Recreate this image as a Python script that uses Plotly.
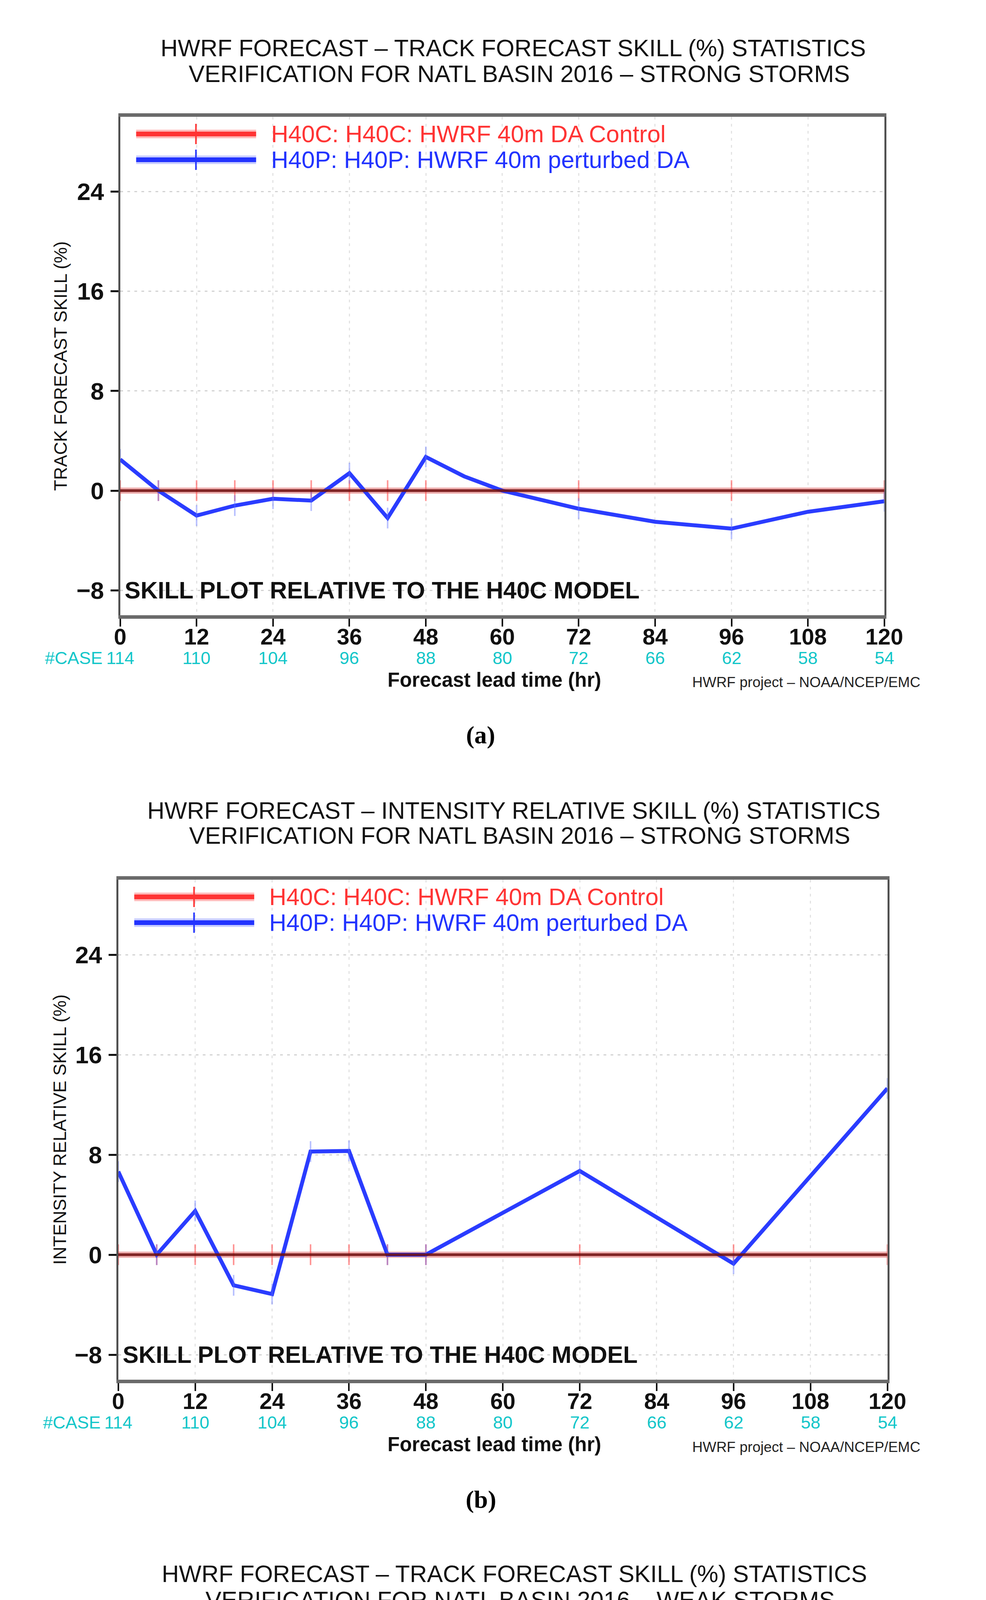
import plotly.graph_objects as go

W, H = 2524, 5892

# ---------------- data ----------------
lead_ticks = [0, 12, 24, 36, 48, 60, 72, 84, 96, 108, 120]
marked_hours = [0, 6, 12, 18, 24, 30, 36, 42, 48, 72, 96, 120]
h40c_skill = [0, 0, 0, 0, 0, 0, 0, 0, 0, 0, 0, 0]

# (a) track skill, strong storms
hours_a = [0, 6, 12, 18, 24, 30, 36, 42, 48, 54, 60, 72, 84, 96, 108, 120]
h40p_a = [2.5, 0.0, -2.0, -1.2, -0.65, -0.8, 1.4, -2.2, 2.7, 1.15, 0.0, -1.45, -2.5, -3.05, -1.7, -0.85]
cases_a = [114, 110, 104, 96, 88, 80, 72, 66, 62, 58, 54]

# (b) intensity skill, strong storms
hours_b = [0, 6, 12, 18, 24, 30, 36, 42, 48, 72, 96, 120]
h40p_b = [6.65, 0.0, 3.5, -2.45, -3.15, 8.25, 8.3, 0.0, 0.0, 6.7, -0.72, 13.3]
cases_b = [114, 110, 104, 96, 88, 80, 72, 66, 62, 58, 54]

# (c) track skill, weak storms
hours_c = [0, 6, 12, 18, 24, 30, 36, 42, 48, 54, 60, 66, 72, 84, 96, 108, 120]
h40p_c = [0.0, 3.2, 4.95, -3.6, 2.3, 3.85, 5.45, 4.45, 3.65, 3.4, 3.2, 3.03, 2.85, 2.73, 2.64, 3.35, 3.96]
cases_c = [177, 156, 139, 124, 110, 96, 83, 68, 52, 43, 37]

titles_line1 = [
    "HWRF FORECAST \u2013 TRACK FORECAST SKILL (%) STATISTICS",
    "HWRF FORECAST \u2013 INTENSITY RELATIVE SKILL (%) STATISTICS",
    "HWRF FORECAST \u2013 TRACK FORECAST SKILL (%) STATISTICS",
]
titles_line2 = [
    "VERIFICATION FOR NATL BASIN 2016 \u2013 STRONG STORMS",
    "VERIFICATION FOR NATL BASIN 2016 \u2013 STRONG STORMS",
    "VERIFICATION FOR NATL BASIN 2016 \u2013 WEAK STORMS",
]
y_titles = ["TRACK FORECAST SKILL (%)", "INTENSITY RELATIVE SKILL (%)", "TRACK FORECAST SKILL (%)"]
captions = ["(a)", "(b)", "(c)"]
legend_labels = ["H40C: H40C: HWRF 40m DA Control", "H40P: H40P: HWRF 40m perturbed DA"]

# ---------------- layout geometry (px) ----------------
panels = [
    dict(l=291, r=2298, t=291, b=1567, t1=115, t2=181, c1=1323, c2=1339, ytx=134, hours=hours_a, vals=h40p_a, cases=cases_a),
    dict(l=286, r=2306, t=2244, b=3524, t1=2067, t2=2131, c1=1325, c2=1341, ytx=132, hours=hours_b, vals=h40p_b, cases=cases_b),
    dict(l=264, r=2333, t=4202, b=5510, t1=4021, t2=4088, c1=1326, c2=1342, ytx=112, hours=hours_c, vals=h40p_c, cases=cases_c),
]

SANS = "Liberation Sans, Arial, Helvetica, sans-serif"
SERIF = "Liberation Serif, Times New Roman, serif"
RED = "#ff3434"
BLUE = "#2233ff"
CYAN = "#12c6c9"


def px(xp):
    return xp / W


def py(yp):
    return 1 - yp / H


fig = go.Figure()
annotations = []
shapes = []

for i, p in enumerate(panels):
    sfx = "" if i == 0 else str(i + 1)
    xa, ya = "x" + sfx, "y" + sfx

    # H40C (reference, zero) - halo with markers
    fig.add_trace(go.Scatter(
        x=marked_hours, y=h40c_skill, mode="lines+markers", xaxis=xa, yaxis=ya,
        line=dict(color="#f0b2b2", width=16),
        marker=dict(symbol="line-ns", size=38, line=dict(color="rgba(255,80,80,0.6)", width=4)),
        showlegend=False, hoverinfo="skip"))
    # H40P
    fig.add_trace(go.Scatter(
        x=p["hours"], y=p["vals"], mode="lines+markers", xaxis=xa, yaxis=ya,
        line=dict(color="#2a3cff", width=10),
        marker=dict(symbol="line-ns", size=[38 if h in marked_hours else 0 for h in p["hours"]],
                    line=dict(color="rgba(90,110,255,0.6)", width=4)),
        showlegend=False))
    # H40C core
    fig.add_trace(go.Scatter(
        x=marked_hours, y=h40c_skill, mode="lines", xaxis=xa, yaxis=ya,
        line=dict(color="rgba(112,16,16,0.88)", width=7),
        showlegend=False, hoverinfo="skip"))

    axis_common = dict(showline=True, mirror=True, ticks="outside", zeroline=False,
                       showgrid=True, gridwidth=3, griddash="7px,11px")
    fig.update_layout(**{
        ("xaxis" + sfx): dict(axis_common, domain=[px(p["l"]), px(p["r"])], anchor=ya,
                              range=[0, 120], tickvals=lead_ticks, ticklen=20, tickwidth=4,
                              tickcolor="#111", linecolor="#6a6a6a", linewidth=9,
                              gridcolor="#e3e3e3", ticklabelstandoff=-24,
                              tickfont=dict(family=SANS, size=58, color="#111", weight="bold")),
        ("yaxis" + sfx): dict(axis_common, domain=[py(p["b"]), py(p["t"])], anchor=xa,
                              range=[-10, 30], tickvals=[-8, 0, 8, 16, 24], ticklen=20, tickwidth=5,
                              tickcolor="#111", linecolor="#505050", linewidth=5,
                              gridcolor="#d2d2d2", ticklabelstandoff=4,
                              tickfont=dict(family=SANS, size=62, color="#111", weight="bold")),
    })

    # titles
    annotations.append(dict(text=titles_line1[i], x=px(p["c1"]), y=py(p["t1"]), xref="paper", yref="paper",
                            xanchor="center", yanchor="middle", showarrow=False,
                            font=dict(family=SANS, size=61, color="#111")))
    annotations.append(dict(text=titles_line2[i], x=px(p["c2"]), y=py(p["t2"]), xref="paper", yref="paper",
                            xanchor="center", yanchor="middle", showarrow=False,
                            font=dict(family=SANS, size=61, color="#111")))

    # manual legend
    for k, (lab, col, halo) in enumerate([(legend_labels[0], RED, "rgba(255,60,60,0.35)"),
                                          (legend_labels[1], BLUE, "rgba(40,60,255,0.25)")]):
        yy = p["t"] + 44 + k * 66
        for wdt, c in [(22, halo), (12, col)]:
            shapes.append(dict(type="line", xref="paper", yref="paper",
                               x0=px(p["l"] + 42), x1=px(p["l"] + 357), y0=py(yy), y1=py(yy),
                               line=dict(color=c, width=wdt)))
        shapes.append(dict(type="line", xref="paper", yref="paper",
                           x0=px(p["l"] + 199), x1=px(p["l"] + 199), y0=py(yy - 26), y1=py(yy + 26),
                           line=dict(color=col, width=4)))
        annotations.append(dict(text=lab, x=px(p["l"] + 394), y=py(yy), xref="paper", yref="paper",
                                xanchor="left", yanchor="middle", showarrow=False,
                                font=dict(family=SANS, size=61, color=col)))

    # skill note
    annotations.append(dict(text="SKILL PLOT RELATIVE TO THE H40C MODEL", x=px(p["l"] + 10), y=-8,
                            xref="paper", yref=ya, xanchor="left", yanchor="middle", showarrow=False,
                            font=dict(family=SANS, size=61, color="#111", weight="bold")))

    # y-axis title
    annotations.append(dict(text=y_titles[i], x=px(p["ytx"]), y=10, xref="paper", yref=ya,
                            xanchor="center", yanchor="middle", textangle=-90, showarrow=False,
                            font=dict(family=SANS, size=46, color="#111")))

    # case counts
    for t, n in zip(lead_ticks, p["cases"]):
        annotations.append(dict(text=str(n), x=t, y=py(p["b"] + 109), xref=xa, yref="paper",
                                xanchor="center", yanchor="middle", showarrow=False,
                                font=dict(family=SANS, size=45, color=CYAN)))
    annotations.append(dict(text="#CASE", x=px(p["l"] - 44), y=py(p["b"] + 109), xref="paper", yref="paper",
                            xanchor="right", yanchor="middle", showarrow=False,
                            font=dict(family=SANS, size=45, color=CYAN)))

    # x-axis title and credit
    annotations.append(dict(text="Forecast lead time (hr)", x=px(1274), y=py(p["b"] + 165),
                            xref="paper", yref="paper", xanchor="center", yanchor="middle", showarrow=False,
                            font=dict(family=SANS, size=51, color="#111", weight="bold")))
    annotations.append(dict(text="HWRF project \u2013 NOAA/NCEP/EMC", x=px(2395), y=py(p["b"] + 172),
                            xref="paper", yref="paper", xanchor="right", yanchor="middle", showarrow=False,
                            font=dict(family=SANS, size=37, color="#222")))

    # caption
    annotations.append(dict(text=captions[i], x=px(1238), y=py(p["b"] + 306), xref="paper", yref="paper",
                            xanchor="center", yanchor="middle", showarrow=False,
                            font=dict(family=SERIF, size=64, color="#000", weight="bold")))

fig.update_layout(
    width=W, height=H, margin=dict(l=0, r=0, t=0, b=0),
    paper_bgcolor="white", plot_bgcolor="white",
    font=dict(family=SANS, color="#111"),
    showlegend=False,
    annotations=annotations, shapes=shapes,
)

fig.write_html("out.html")
